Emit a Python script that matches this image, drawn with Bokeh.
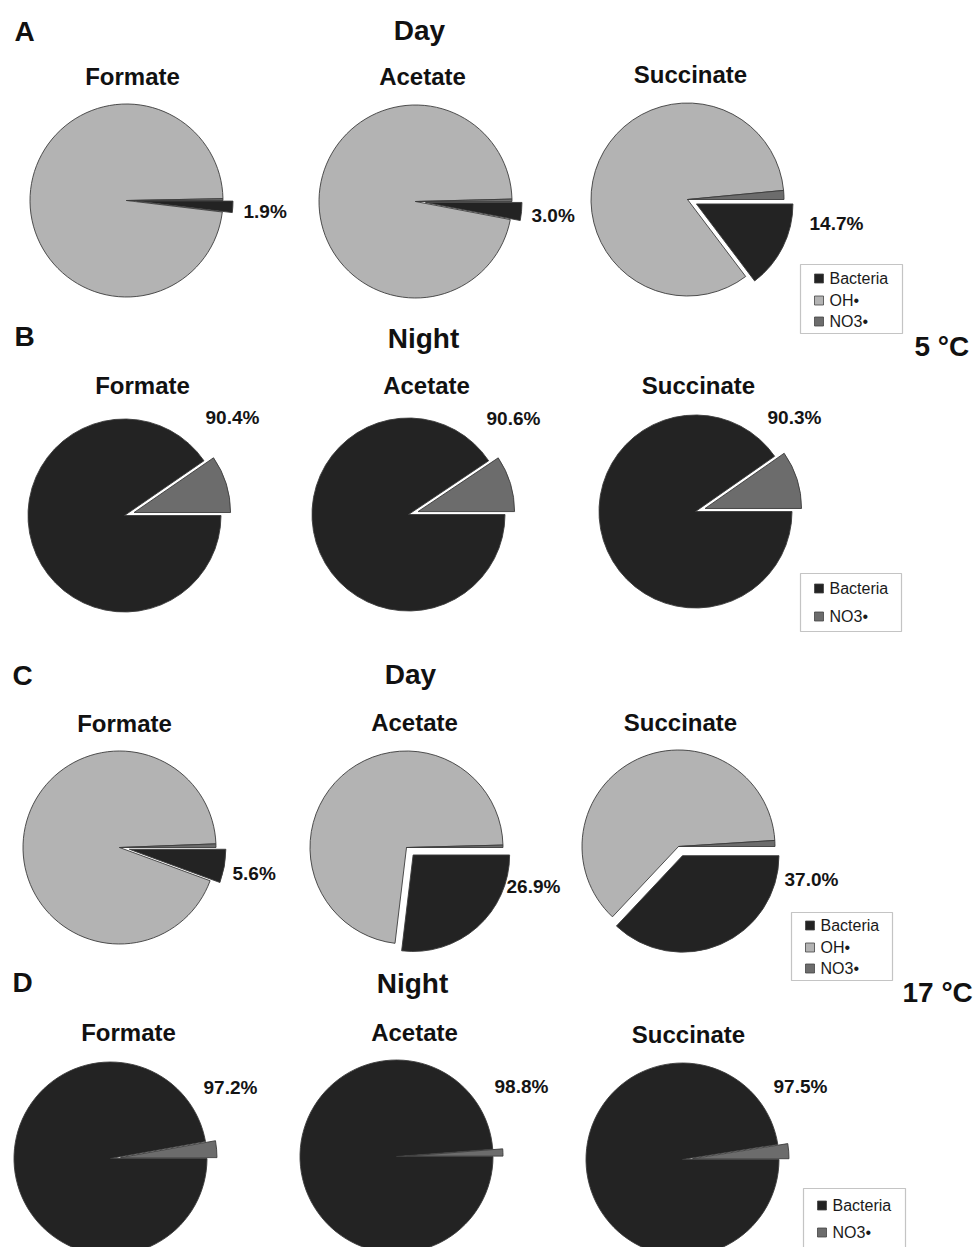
import math
from bokeh.plotting import figure
from bokeh.models import Range1d
from bokeh.embed import file_html
from bokeh.resources import INLINE
from bokeh.core.properties import value

# ---------------- data (percent of total degradation) ----------------
substrates = ["Formate", "Acetate", "Succinate"]
categories = ["Bacteria", "OH\u2022", "NO3\u2022"]

# A: 5 °C, Day
a_bacteria = [1.9, 3.0, 14.7]
a_oh = [97.8, 96.6, 83.8]
a_no3 = [0.3, 0.4, 1.5]
# B: 5 °C, Night
b_bacteria = [90.4, 90.6, 90.3]
b_oh = [0.0, 0.0, 0.0]
b_no3 = [9.6, 9.4, 9.7]
# C: 17 °C, Day
c_bacteria = [5.6, 26.9, 37.0]
c_oh = [93.8, 72.7, 62.0]
c_no3 = [0.6, 0.4, 1.0]
# D: 17 °C, Night
d_bacteria = [97.2, 98.8, 97.5]
d_oh = [0.0, 0.0, 0.0]
d_no3 = [2.8, 1.2, 2.5]

colors = {"Bacteria": "#232323", "OH\u2022": "#b3b3b3", "NO3\u2022": "#6c6c6c"}

# ---------------- layout (reference pixel coordinates) ----------------
W, H = 977, 1247


def Y(y):
    return H - y


panels = [
    dict(letter="A", period="Day", temp="5 \u00b0C", bac=a_bacteria, oh=a_oh, no3=a_no3,
         letter_pos=(14, 31), period_pos=(419, 30), temp_pos=(914, 346),
         centers=[(126, 200), (415, 201), (687, 199)],
         titles=[(132, 76), (422, 76), (690, 74)],
         labels=[(117, 11), (116, 14), (122, 24)],
         legend_box=(800, 264, 902, 333), legend_y=[278, 300, 321]),
    dict(letter="B", period="Night", temp=None, bac=b_bacteria, oh=b_oh, no3=b_no3,
         letter_pos=(14, 336), period_pos=(423, 338), temp_pos=None,
         centers=[(124, 515), (408, 514), (695, 511)],
         titles=[(142, 385), (426, 385), (698, 385)],
         labels=[(81, -98), (78, -96), (72, -94)],
         legend_box=(800, 573, 901, 631), legend_y=[588, 616]),
    dict(letter="C", period="Day", temp="17 \u00b0C", bac=c_bacteria, oh=c_oh, no3=c_no3,
         letter_pos=(12, 675), period_pos=(410, 674), temp_pos=(902, 992),
         centers=[(119, 847), (406, 847), (678, 846)],
         titles=[(124, 723), (414, 722), (680, 722)],
         labels=[(113, 26), (100, 39), (106, 33)],
         legend_box=(791, 912, 892, 980), legend_y=[925, 947, 968]),
    dict(letter="D", period="Night", temp=None, bac=d_bacteria, oh=d_oh, no3=d_no3,
         letter_pos=(12, 982), period_pos=(412, 983), temp_pos=None,
         centers=[(110, 1158), (396, 1156), (682, 1159)],
         titles=[(128, 1032), (414, 1032), (688, 1034)],
         labels=[(93, -71), (98, -70), (91, -73)],
         legend_box=(803, 1188, 905, 1252), legend_y=[1205, 1232]),
]

R = 96.5
EXPLODE = 10
FONT = value("Liberation Sans")

p = figure(width=W, height=H, output_backend="svg", toolbar_location=None,
           x_range=Range1d(0, W), y_range=Range1d(0, H),
           x_axis_location=None, y_axis_location=None, min_border=0)
p.xgrid.visible = False
p.ygrid.visible = False
p.outline_line_color = None
p.background_fill_color = "white"
p.border_fill_color = "white"

TWO_PI = 2 * math.pi

for pan in panels:
    is_day = any(v > 0 for v in pan["oh"])
    for i, sub in enumerate(substrates):
        cx, cy = pan["centers"][i]
        b = pan["bac"][i] / 100.0
        oh = pan["oh"][i] / 100.0
        n = pan["no3"][i] / 100.0
        slices = [
            ("Bacteria", -b * TWO_PI, 0.0),
            ("OH\u2022", -(b + oh) * TWO_PI, -b * TWO_PI),
            ("NO3\u2022", 0.0, n * TWO_PI),
        ]
        exploded = "Bacteria" if is_day else "NO3\u2022"
        order = [s for s in slices if s[0] != exploded] + [s for s in slices if s[0] == exploded]
        for name, a0, a1 in order:
            if a1 - a0 <= 0:
                continue
            x0, y0 = cx, Y(cy)
            if name == exploded:
                mid = 0.5 * (a0 + a1)
                x0 += EXPLODE * math.cos(mid)
                y0 += EXPLODE * math.sin(mid)
            p.wedge(x=[x0], y=[y0], radius=R, start_angle=[a0], end_angle=[a1],
                    fill_color=colors[name], line_color="#3c3c3c", line_width=0.9)
        # percentage label (bacterial share)
        dx, dy = pan["labels"][i]
        p.text(x=[cx + dx], y=[Y(cy + dy)], text=["%.1f%%" % pan["bac"][i]],
               text_font=FONT, text_font_style="bold", text_font_size="19px",
               text_align="left", text_baseline="middle", text_color="#141414")
        # substrate title
        tx, ty = pan["titles"][i]
        p.text(x=[tx], y=[Y(ty)], text=[sub], text_font=FONT, text_font_style="bold",
               text_font_size="24px", text_align="center", text_baseline="middle",
               text_color="#111111")

    lx, ly = pan["letter_pos"]
    p.text(x=[lx], y=[Y(ly)], text=[pan["letter"]], text_font=FONT, text_font_style="bold",
           text_font_size="28px", text_align="left", text_baseline="middle", text_color="#111111")
    px_, py_ = pan["period_pos"]
    p.text(x=[px_], y=[Y(py_)], text=[pan["period"]], text_font=FONT, text_font_style="bold",
           text_font_size="28px", text_align="center", text_baseline="middle", text_color="#111111")
    if pan["temp"]:
        tx, ty = pan["temp_pos"]
        p.text(x=[tx], y=[Y(ty)], text=[pan["temp"]], text_font=FONT, text_font_style="bold",
               text_font_size="28px", text_align="left", text_baseline="middle", text_color="#111111")

    x0, y0, x1, y1 = pan["legend_box"]
    p.quad(left=[x0], right=[x1], top=[Y(y0)], bottom=[Y(y1)], fill_color="white",
           line_color="#c4c4c4", line_width=1.2)
    items = [c for c in categories if c != "OH\u2022" or is_day]
    for name, iy in zip(items, pan["legend_y"]):
        p.rect(x=[x0 + 18.5], y=[Y(iy)], width=9, height=9, fill_color=colors[name],
               line_color="#444444", line_width=0.8)
        p.text(x=[x0 + 29], y=[Y(iy)], text=[name], text_font=FONT, text_font_size="16px",
               text_align="left", text_baseline="middle", text_color="#1a1a1a")

open("out.html", "w").write(file_html(p, INLINE))
